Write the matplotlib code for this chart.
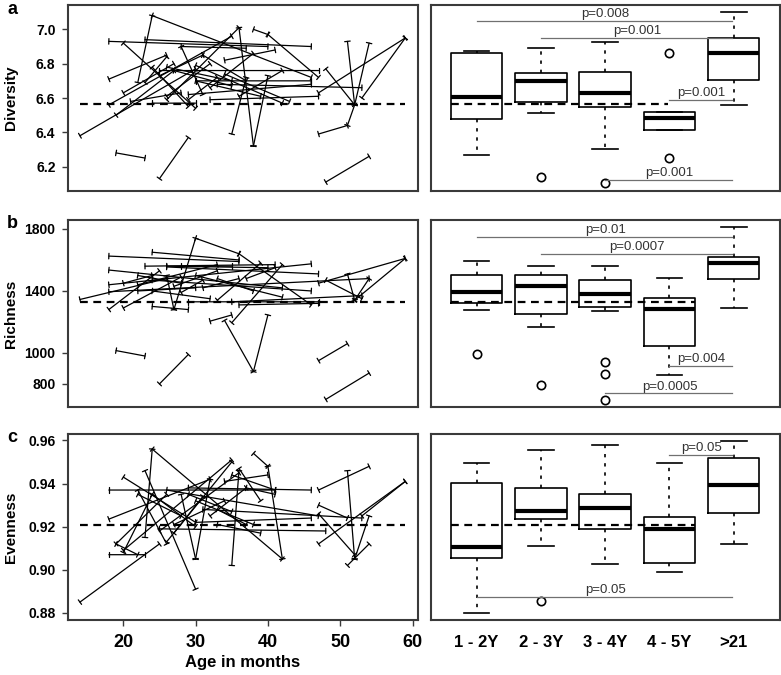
import matplotlib
matplotlib.use("Agg")
import matplotlib.pyplot as plt

plt.rcParams["font.family"] = ["Liberation Sans", "DejaVu Sans"]

# left panels: one tuple per pair of samples (age0, value0, age1, value1)
div_segments = [
    (14, 6.38, 30, 6.77), (19, 6.28, 23, 6.25), (25, 6.13, 29, 6.37),
    (47, 6.39, 51, 6.44), (51, 6.44, 52, 6.56), (48, 6.11, 54, 6.26),
    (18, 6.93, 40, 6.90), (20, 6.92, 30, 6.54), (23, 6.94, 46, 6.90),
    (18, 6.71, 26, 6.85), (20, 6.63, 27, 6.80), (18, 6.56, 35, 6.96),
    (22, 6.69, 24, 7.08), (24, 7.08, 46, 6.72), (36, 7.01, 38, 6.32),
    (38, 6.32, 40, 6.73), (35, 6.39, 37, 6.72), (38, 7.00, 40, 6.97),
    (40, 6.97, 47, 6.72), (51, 6.93, 52, 6.56), (52, 6.56, 54, 6.92),
    (48, 6.77, 52, 6.56), (47, 6.63, 59, 6.95), (53, 6.60, 59, 6.95),
    (32, 6.59, 47, 6.61), (24, 6.57, 30, 6.57), (25, 6.76, 47, 6.76),
    (28, 6.90, 31, 6.62), (26, 6.59, 36, 7.01), (30, 6.79, 42, 6.57),
    (29, 6.62, 46, 6.68), (31, 6.85, 37, 6.70), (33, 6.68, 53, 6.66),
    (27, 6.76, 35, 6.67), (34, 6.82, 41, 6.88), (19, 6.50, 27, 6.76),
    (24, 6.78, 29, 6.55), (36, 6.61, 42, 6.76), (23, 6.69, 26, 6.84),
    (30, 6.70, 39, 6.61), (26, 6.61, 32, 6.80), (30, 6.70, 46, 6.70),
    (28, 6.90, 37, 6.89), (25, 6.73, 31, 6.85), (29, 6.59, 33, 6.72),
    (32, 6.66, 38, 6.86), (34, 6.74, 43, 6.58), (26, 6.78, 35, 6.70),
    (21, 6.58, 28, 6.63),
]
rich_segments = [
    (14, 1345, 26, 1480), (19, 1015, 23, 980), (25, 800, 29, 990),
    (47, 950, 51, 1060), (48, 700, 54, 870), (18, 1625, 36, 1590),
    (24, 1650, 36, 1600), (27, 1280, 30, 1740), (30, 1740, 36, 1640),
    (36, 1640, 46, 1310), (18, 1535, 42, 1420), (18, 1440, 46, 1575),
    (18, 1280, 25, 1530), (20, 1290, 28, 1490), (22, 1440, 33, 1570),
    (18, 1395, 54, 1480), (23, 1560, 41, 1570), (26, 1555, 47, 1510),
    (34, 1210, 38, 880), (38, 880, 40, 1245), (32, 1205, 35, 1245),
    (35, 1195, 42, 1570), (47, 1450, 59, 1610), (52, 1340, 59, 1610),
    (51, 1510, 52, 1340), (52, 1340, 54, 1480), (48, 1470, 53, 1350),
    (29, 1330, 47, 1330), (24, 1300, 29, 1280), (26, 1500, 27, 1280),
    (30, 1500, 42, 1360), (24, 1470, 46, 1400), (35, 1330, 53, 1370),
    (36, 1310, 47, 1320), (28, 1390, 31, 1470), (20, 1450, 24, 1500),
    (27, 1430, 33, 1530), (22, 1400, 30, 1420), (37, 1480, 41, 1550),
    (33, 1340, 39, 1580), (26, 1560, 40, 1550), (31, 1420, 36, 1480),
    (22, 1500, 28, 1450), (33, 1480, 38, 1400), (28, 1560, 35, 1560),
    (24, 1400, 32, 1350),
]
even_segments = [
    (14, 0.885, 25, 0.912), (19, 0.912, 22, 0.907), (18, 0.907, 23, 0.907),
    (24, 0.956, 42, 0.905), (23, 0.915, 24, 0.956), (18, 0.937, 41, 0.937),
    (20, 0.943, 30, 0.922), (23, 0.946, 30, 0.891), (18, 0.9235, 32, 0.942),
    (19, 0.912, 26, 0.935), (20, 0.909, 35, 0.951), (35, 0.902, 36, 0.946),
    (38, 0.954, 40, 0.948), (40, 0.948, 42, 0.905), (47, 0.937, 54, 0.948),
    (51, 0.946, 52, 0.905), (52, 0.905, 54, 0.925), (53, 0.925, 59, 0.941),
    (47, 0.912, 59, 0.941), (51, 0.902, 54, 0.912), (47, 0.930, 51, 0.924),
    (47, 0.926, 52, 0.907), (25, 0.919, 48, 0.918), (26, 0.937, 47, 0.925),
    (29, 0.938, 46, 0.937), (28, 0.935, 30, 0.905), (30, 0.905, 32, 0.942),
    (33, 0.921, 39, 0.917), (22, 0.937, 26, 0.912), (24, 0.935, 30, 0.920),
    (31, 0.928, 53, 0.924), (36, 0.947, 39, 0.932), (34, 0.941, 40, 0.944),
    (26, 0.913, 35, 0.950), (25, 0.918, 36, 0.945), (30, 0.922, 46, 0.924),
    (27, 0.917, 31, 0.934), (33, 0.928, 37, 0.921), (37, 0.938, 41, 0.935),
    (20, 0.908, 24, 0.935), (29, 0.935, 35, 0.927), (32, 0.925, 37, 0.938),
    (27, 0.921, 34, 0.932), (22, 0.935, 28, 0.925), (35, 0.944, 41, 0.937),
    (30, 0.932, 38, 0.921),
]

# right panels: (whisker low, q1, median, q3, whisker high) per age group
groups = ["1 - 2Y", "2 - 3Y", "3 - 4Y", "4 - 5Y", ">21"]
div_stats = [(6.268, 6.478, 6.604, 6.860, 6.876), (6.511, 6.575, 6.699, 6.748, 6.893),
             (6.301, 6.550, 6.627, 6.751, 6.924), (6.414, 6.414, 6.482, 6.517, 6.517),
             (6.557, 6.705, 6.860, 6.948, 7.103)]
div_fliers = [[], [6.138], [6.107], [6.864, 6.249], []]
rich_stats = [(1277, 1325, 1391, 1503, 1593), (1168, 1254, 1430, 1503, 1561),
              (1273, 1294, 1381, 1471, 1561), (856, 1045, 1282, 1357, 1482),
              (1288, 1475, 1583, 1617, 1811)]
rich_fliers = [[993], [793], [944, 864, 697], [], []]
even_stats = [(0.8801, 0.9054, 0.9105, 0.9402, 0.9497), (0.9111, 0.9235, 0.9273, 0.9381, 0.9556),
              (0.9027, 0.9188, 0.9286, 0.9352, 0.9579), (0.8992, 0.9030, 0.9188, 0.9247, 0.9494),
              (0.9119, 0.9262, 0.9394, 0.9518, 0.9598)]
even_fliers = [[], [0.8857], [], [], []]

# p-value brackets: (group from, group to, height, label)
div_pvals = [(1, 5, 7.049, "p=0.008"), (2, 5, 6.951, "p=0.001"),
             (4, 5, 6.588, "p=0.001"), (3, 5, 6.122, "p=0.001")]
rich_pvals = [(1, 5, 1750, "p=0.01"), (2, 5, 1639, "p=0.0007"),
              (4, 5, 918, "p=0.004"), (3, 5, 740, "p=0.0005")]
even_pvals = [(4, 5, 0.9533, "p=0.05"), (1, 5, 0.8873, "p=0.05")]

div_ref, rich_ref, even_ref = 6.563, 1331, 0.9208

W, H = 781, 675
FRAME = "#3a3a3a"


def px_axes(fig, left, top, right, bottom):
    return fig.add_axes([left / W, 1 - bottom / H, (right - left) / W, (bottom - top) / H])


def style_frame(ax):
    for sp in ax.spines.values():
        sp.set_linewidth(1.5)
        sp.set_color(FRAME)


def draw_left(ax, segments, ref, ylim, yticks, ylabel, ticklabels):
    for x0, y0, x1, y1 in segments:
        ax.annotate("", xy=(x1, y1), xytext=(x0, y0),
                    arrowprops=dict(arrowstyle="|-|,widthA=0.2,widthB=0.2",
                                    lw=0.9, color="black", shrinkA=0, shrinkB=0))
    ax.hlines(ref, 14, 59, colors="black", lw=1.6, linestyles=(0, (3.5, 2.5)), zorder=3)
    ax.set_xlim(12.35, 60.76)
    ax.set_ylim(*ylim)
    ax.set_yticks(yticks)
    ax.set_yticklabels(ticklabels, fontweight="bold", fontsize=10)
    ax.tick_params(axis="y", length=4, width=1, color=FRAME, pad=5)
    ax.set_ylabel(ylabel, fontweight="bold", fontsize=11)
    ax.yaxis.set_label_coords(-0.142, 0.5)
    style_frame(ax)


def draw_right(ax, stats, fliers, pvals, ref, ref_end, ylim):
    bxp = [dict(whislo=s[0], q1=s[1], med=s[2], q3=s[3], whishi=s[4], fliers=f)
           for s, f in zip(stats, fliers)]
    ax.bxp(bxp, positions=range(1, 6), widths=0.8, capwidths=0.4,
           boxprops=dict(lw=1.2, color="black"),
           whiskerprops=dict(lw=1.2, color="black", linestyle=(0, (2, 3.5))),
           capprops=dict(lw=1.2, color="black"),
           medianprops=dict(lw=3, color="black"),
           flierprops=dict(marker="o", markersize=6, markerfacecolor="none",
                           markeredgecolor="black", markeredgewidth=1.2))
    ax.hlines(ref, 0.6, ref_end, colors="black", lw=1.6, linestyles=(0, (3.5, 2.5)), zorder=4)
    for g0, g1, y, label in pvals:
        ax.plot([g0, g1 - 0.03], [y, y], color="#707070", lw=0.9, zorder=5)
        ax.annotate(label, xy=((g0 + g1) / 2, y), xytext=(0, 0.5), textcoords="offset points",
                    ha="center", va="bottom", fontsize=9.5, color="#333333")
    ax.set_xlim(0.29, 5.72)
    ax.set_ylim(*ylim)
    ax.set_yticks([])
    style_frame(ax)


fig = plt.figure(figsize=(W / 100, H / 100), dpi=100)

rows = [(5, 191), (220, 407), (434, 620)]
left_axes = [px_axes(fig, 68, t, 418, b) for t, b in rows]
right_axes = [px_axes(fig, 431, t, 780, b) for t, b in rows]

draw_left(left_axes[0], div_segments, div_ref, (6.058, 7.142),
          [6.2, 6.4, 6.6, 6.8, 7.0], "Diversity", ["6.2", "6.4", "6.6", "6.8", "7.0"])
draw_left(left_axes[1], rich_segments, rich_ref, (651, 1858),
          [800, 1000, 1400, 1800], "Richness", ["800", "1000", "1400", "1800"])
draw_left(left_axes[2], even_segments, even_ref, (0.8767, 0.963),
          [0.88, 0.90, 0.92, 0.94, 0.96], "Evenness", ["0.88", "0.90", "0.92", "0.94", "0.96"])

draw_right(right_axes[0], div_stats, div_fliers, div_pvals, div_ref, 3.97, (6.058, 7.142))
draw_right(right_axes[1], rich_stats, rich_fliers, rich_pvals, rich_ref, 4.4, (651, 1858))
draw_right(right_axes[2], even_stats, even_fliers, even_pvals, even_ref, 4.4, (0.8767, 0.963))

for ax in left_axes[:2]:
    ax.set_xticks([])
for ax in right_axes[:2]:
    ax.set_xticks([])

left_axes[2].set_xticks([20, 30, 40, 50, 60])
left_axes[2].set_xticklabels(["20", "30", "40", "50", "60"], fontweight="bold", fontsize=13)
left_axes[2].tick_params(axis="x", length=4, width=1, color=FRAME, pad=6)
left_axes[2].set_xlabel("Age in months", fontweight="bold", fontsize=12, labelpad=3)

right_axes[2].set_xticks(range(1, 6))
right_axes[2].set_xticklabels(groups, fontweight="bold", fontsize=12)
right_axes[2].tick_params(axis="x", length=0, pad=11)

for letter, ypx in zip("abc", [10, 223, 438]):
    fig.text(12 / W, 1 - ypx / H, letter, fontweight="bold", fontsize=13, ha="center", va="center")

fig.savefig("out.png", dpi=100)
